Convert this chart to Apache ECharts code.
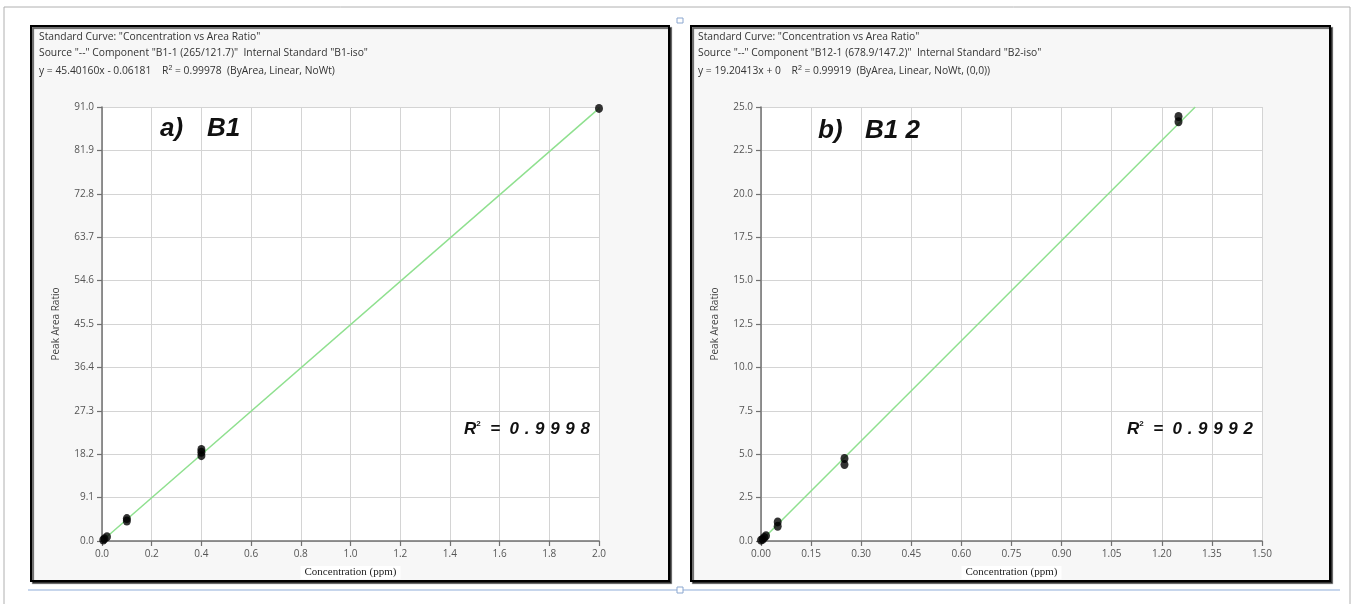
<!DOCTYPE html>
<html>
<head>
<meta charset="utf-8">
<script src="https://cdn.jsdelivr.net/npm/echarts@6/dist/echarts.min.js"></script>
<style>
html,body{margin:0;padding:0;background:#fff;}
#c{width:1354px;height:604px;}
</style>
</head>
<body>
<div id="c"></div>
<script>
// ---- data ----
const pointsA = [[0.005,0.2],[0.01,0.45],[0.02,0.9],[0.1,4.2],[0.1,4.7],[0.4,17.9],[0.4,18.6],[0.4,19.2],[2.0,90.7]];
const fitA = [[0,0],[2.0,90.7]];
const pointsB = [[0,0.05],[0.005,0.1],[0.01,0.2],[0.015,0.3],[0.05,0.85],[0.05,1.1],[0.25,4.4],[0.25,4.75],[1.25,24.15],[1.25,24.45]];
const fitB = [[0,0],[1.30,25]];
const xAxisA = {min:0, max:2.0, interval:0.2, digits:1};
const yAxisA = {min:0, max:91.0, interval:9.1, digits:1};
const xAxisB = {min:0, max:1.5, interval:0.15, digits:2};
const yAxisB = {min:0, max:25.0, interval:2.5, digits:1};
const headerA = ['Standard Curve: "Concentration vs Area Ratio"',
  'Source "--" Component "B1-1 (265/121.7)"  Internal Standard "B1-iso"',
  'y = 45.40160x - 0.06181    R{s|2} = 0.99978  (ByArea, Linear, NoWt)'];
const headerB = ['Standard Curve: "Concentration vs Area Ratio"',
  'Source "--" Component "B12-1 (678.9/147.2)"  Internal Standard "B2-iso"',
  'y = 19.20413x + 0    R{s|2} = 0.99919  (ByArea, Linear, NoWt, (0,0))'];
const labelA = ['a)', 'B1'];
const labelB = ['b)', 'B1 2'];
const r2A = '0.9998';
const r2B = '0.9992';
const xName = 'Concentration (ppm)';
const yName = 'Peak Area Ratio';

const chart = echarts.init(document.getElementById('c'));
const axisLineStyle = {color:'#707070', width:1.5};
function mkX(cfg, gi){
  return {type:'value', gridIndex:gi, min:cfg.min, max:cfg.max, interval:cfg.interval,
    name:xName, nameLocation:'middle', nameGap:25,
    nameTextStyle:{fontFamily:'Liberation Serif', fontSize:11, color:'#222', backgroundColor:'#fff', padding:[1,4,1,4]},
    axisLine:{show:true, onZero:false, lineStyle:axisLineStyle},
    axisTick:{show:true, length:5, lineStyle:{color:'#707070', width:1.2}},
    axisLabel:{fontFamily:'Open Sans', fontSize:10, color:'#555', margin:8, formatter:v=>v.toFixed(cfg.digits)},
    splitLine:{show:true, lineStyle:{color:'#d4d4d4', width:1}}};
}
function mkY(cfg, gi){
  return {type:'value', gridIndex:gi, min:cfg.min, max:cfg.max, interval:cfg.interval,
    name:yName, nameLocation:'middle', nameGap:41, nameRotate:90,
    nameTextStyle:{fontFamily:'Open Sans', fontSize:10, color:'#444'},
    axisLine:{show:true, onZero:false, lineStyle:axisLineStyle},
    axisTick:{show:true, length:5, lineStyle:{color:'#707070', width:1.2}},
    axisLabel:{fontFamily:'Open Sans', fontSize:10, color:'#555', margin:8, formatter:v=>v.toFixed(cfg.digits)},
    splitLine:{show:true, lineStyle:{color:'#d4d4d4', width:1}}};
}
function header(lines, x){
  return lines.map((t,i)=>({type:'text', left:x, top:32+i*16.5, z:10,
    style:{text:t, fontFamily:'Open Sans', fontSize:10.3, fill:'#333',
      rich:{s:{fontSize:7, verticalAlign:'top', fill:'#333', padding:[0,0,6,0]}}}}));
}
function r2(val, x, y){
  const spaced = val.split('').join('\u2004');
  return {type:'text', left:x, top:y, z:10,
    style:{text:'{r|R}{s|2}{r|  =  ' + spaced + '}', fill:'#111',
      rich:{r:{fontFamily:'Liberation Sans', fontSize:17, fontWeight:'bold', fontStyle:'italic', fill:'#111'},
            s:{fontFamily:'Liberation Sans', fontSize:8, fontWeight:'bold', fill:'#111', verticalAlign:'top', padding:[0,0,10,0]}}}};
}
function bigLabel(parts, x1, x2, y){
  const st = {fontFamily:'Liberation Sans', fontSize:26, fontWeight:'bold', fontStyle:'italic', fill:'#111'};
  return [{type:'text', left:x1, top:y, z:10, style:Object.assign({text:parts[0]}, st)},
          {type:'text', left:x2, top:y, z:10, style:Object.assign({text:parts[1]}, st)}];
}
const graphics = [
  {type:'rect', shape:{x:4, y:7, width:1346, height:640}, style:{fill:'#fff', stroke:'#b0b0b0', lineWidth:1}, z:-10},
  {type:'rect', shape:{x:31, y:26, width:638, height:555}, style:{fill:'#f7f7f7', stroke:'#000', lineWidth:2, shadowColor:'rgba(0,0,0,0.6)', shadowOffsetX:2, shadowOffsetY:2, shadowBlur:1}, z:-9},
  {type:'rect', shape:{x:691, y:26, width:639, height:555}, style:{fill:'#f7f7f7', stroke:'#000', lineWidth:2, shadowColor:'rgba(0,0,0,0.6)', shadowOffsetX:2, shadowOffsetY:2, shadowBlur:1}, z:-9},
  {type:'line', shape:{x1:28, y1:590, x2:1340, y2:590}, style:{stroke:'#c7d6ec', lineWidth:2}, z:-8},
  {type:'rect', shape:{x:677, y:587, width:6, height:6}, style:{fill:'#fff', stroke:'#8aa6cf', lineWidth:1}, z:-7},
  {type:'rect', shape:{x:677, y:18, width:6, height:5}, style:{fill:'#fff', stroke:'#8aa6cf', lineWidth:1}, z:-7},
  ...header(headerA, 39), ...header(headerB, 698),
  ...bigLabel(labelA, 160, 207, 116), ...bigLabel(labelB, 818, 865, 118),
  r2(r2A, 464, 420), r2(r2B, 1127, 420)
];
const markerStyle = {color:'#000'};
chart.setOption({
  animation:false,
  backgroundColor:'#fff',
  graphic:graphics,
  grid:[
    {left:102, top:107, width:497, height:434, show:true, backgroundColor:'#fff', borderWidth:0},
    {left:761, top:107, width:501, height:434, show:true, backgroundColor:'#fff', borderWidth:0}
  ],
  xAxis:[mkX(xAxisA,0), mkX(xAxisB,1)],
  yAxis:[mkY(yAxisA,0), mkY(yAxisB,1)],
  series:[
    {type:'line', xAxisIndex:0, yAxisIndex:0, data:fitA, symbol:'none', lineStyle:{color:'#8fe08f', width:1.5}, clip:true, z:2},
    {type:'scatter', xAxisIndex:0, yAxisIndex:0, data:pointsA, symbol:'circle', symbolSize:[8,9], itemStyle:markerStyle, z:3},
    {type:'line', xAxisIndex:1, yAxisIndex:1, data:fitB, symbol:'none', lineStyle:{color:'#8fe08f', width:1.5}, clip:true, z:2},
    {type:'scatter', xAxisIndex:1, yAxisIndex:1, data:pointsB, symbol:'circle', symbolSize:[8,9], itemStyle:markerStyle, z:3}
  ]
});
</script>
</body>
</html>
